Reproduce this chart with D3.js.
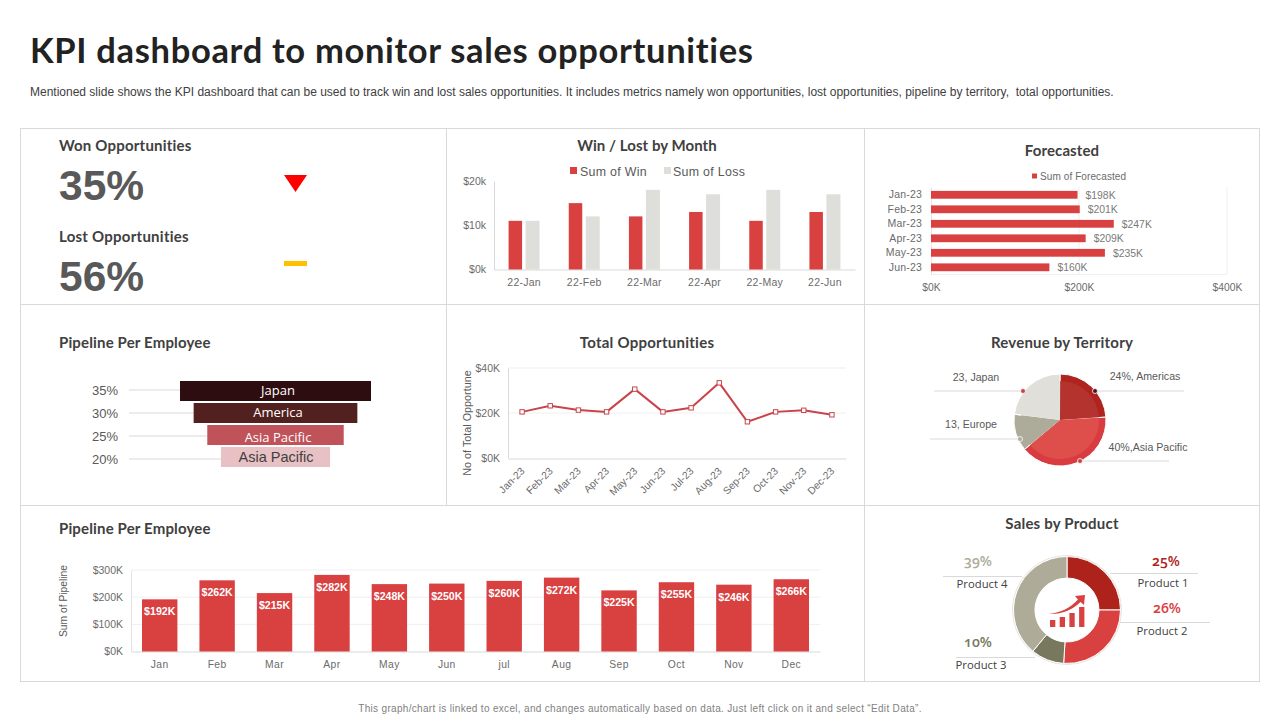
<!DOCTYPE html>
<html><head><meta charset="utf-8">
<script src="https://cdn.jsdelivr.net/npm/d3@7/dist/d3.min.js"></script>
<style>
html,body{margin:0;padding:0;background:#fff;overflow:hidden}
svg{display:block}
text{font-family:"Liberation Sans",Arial,sans-serif;font-variant-ligatures:none;white-space:pre}
.ttl{font-family:Lato,sans-serif;font-weight:700;font-size:15px;fill:#404040}
.tick text{fill:#6b6b6b}
</style></head><body>
<svg id="c" width="1280" height="720"></svg>
<script>
const kpiNames = ["Won Opportunities","Lost Opportunities"];
const kpiValues = ["35%","56%"];
const winMonths = ["22-Jan","22-Feb","22-Mar","22-Apr","22-May","22-Jun"];
const winValues = [11,15,12,13,11,13];
const lossValues = [11,12,18,17,18,17];
const fcMonths = ["Jan-23","Feb-23","Mar-23","Apr-23","May-23","Jun-23"];
const fcValues = [198,201,247,209,235,160];
const funnelPct = [35,30,25,20];
const funnelNames = ["Japan","America","Asia Pacific","Asia Pacific"];
const funnelColors = ["#2d0d0f","#52201f","#bf5359","#e8c1c4"];
const totMonths = ["Jan-23","Feb-23","Mar-23","Apr-23","May-23","Jun-23","Jul-23","Aug-23","Sep-23","Oct-23","Nov-23","Dec-23"];
const totValues = [20.5,23.2,21.3,20.5,30.6,20.5,22.3,33.4,16.1,20.5,21.2,19.2];
const terrNames = ["24%, Americas","40%,Asia Pacific","13, Europe","23, Japan"];
const terrValues = [24,40,13,23];
const terrOuter = ["#b02420","#d93c40","#adac9a","#e0dfd9"];
const terrInner = ["#b5332e","#de4f4c","#adac9a","#e0dfd9"];
const pipeMonths = ["Jan","Feb","Mar","Apr","May","Jun","jul","Aug","Sep","Oct","Nov","Dec"];
const pipeValues = [192,262,215,282,248,250,260,272,225,255,246,266];
const prodNames = ["Product 1","Product 2","Product 3","Product 4"];
const prodValues = [25,26,10,39];
const prodColors = ["#ad231c","#d94040","#77785e","#aeac99"];

const RED="#d94040", GREY="#dededa", svg=d3.select("#c");
const txt=(x,y,s,o={})=>{const t=svg.append("text").attr("x",x).attr("y",y).text(s)
  .attr("text-anchor",o.a||"start").attr("font-size",o.s||11).attr("fill",o.f||"#595959");
  if(o.w)t.attr("font-weight",o.w); if(o.ff)t.style("font-family",o.ff); if(o.ls)t.attr("letter-spacing",o.ls); if(o.c)t.attr("class",o.c); return t;};
const line=(x1,y1,x2,y2,c="#d9d9d9",w=1)=>svg.append("line").attr("x1",x1).attr("y1",y1).attr("x2",x2).attr("y2",y2).attr("stroke",c).attr("stroke-width",w);
const title=(x,y,s,a,ls=.2)=>txt(x,y,s,{c:"ttl",a,f:"#404040",ls}).attr("font-size",null);

// header
txt(30,63,"KPI dashboard to monitor sales opportunities",{s:34.5,w:700,f:"#222",ff:"Lato,sans-serif",ls:.67});
txt(30,96,"Mentioned slide shows the KPI dashboard that can be used to track win and lost sales opportunities. It includes metrics namely won opportunities, lost opportunities, pipeline by territory,  total opportunities.",{s:12,f:"#404040"});
txt(640,712,"This graph/chart is linked to excel, and changes automatically based on data. Just left click on it and select “Edit Data”.",{s:10,a:"middle",f:"#7f7f7f",ls:.32});

// panel frame
svg.append("rect").attr("x",20.5).attr("y",128.5).attr("width",1239).attr("height",553).attr("fill","none").attr("stroke","#d9d9d9");
line(446.5,128,446.5,505); line(864.5,128,864.5,682); line(20,304.5,1260,304.5); line(20,505.5,1260,505.5);

// KPI
title(59,151,kpiNames[0]); title(59,242,kpiNames[1],undefined,.25);
txt(59,199.5,kpiValues[0],{s:42.5,w:700}); txt(59,290.5,kpiValues[1],{s:42.5,w:700});
svg.append("path").attr("d",d3.line()([[284,175],[307,175],[295.5,192]])+"Z").attr("fill","#ff0000");
svg.append("rect").attr("x",284).attr("y",261).attr("width",23).attr("height",5).attr("fill","#ffc000");

function axisStyle(g,fs,ls){g.selectAll(".tick text").attr("font-size",fs).attr("letter-spacing",ls||0);g.selectAll(".tick line").remove();}

// Win / Lost
title(647,151,"Win / Lost by Month","middle",.05);
{const x=d3.scaleBand().domain(winMonths).range([494,855]);
 const y=d3.scaleLinear().domain([0,20]).range([269.5,181]);
 const gy=svg.append("g").attr("transform","translate(494,0)").call(d3.axisLeft(y).tickValues([0,10,20]).tickFormat(d=>`$${d}k`).tickSize(0).tickPadding(8));
 gy.select(".domain").attr("stroke","#d9d9d9"); axisStyle(gy,10.5);
 const gx=svg.append("g").attr("transform","translate(0,269.5)").call(d3.axisBottom(x).tickSize(0).tickPadding(9));
 gx.select(".domain").attr("stroke","#d9d9d9"); axisStyle(gx,10.5,.25);
 svg.selectAll(".w").data(winValues).join("rect").attr("fill",RED).attr("x",(d,i)=>x(winMonths[i])+x.bandwidth()/2-15.5).attr("width",13.5).attr("y",d=>y(d)).attr("height",d=>y(0)-y(d));
 svg.selectAll(".l").data(lossValues).join("rect").attr("fill",GREY).attr("x",(d,i)=>x(winMonths[i])+x.bandwidth()/2+1.5).attr("width",14).attr("y",d=>y(d)).attr("height",d=>y(0)-y(d));
 svg.append("rect").attr("x",570).attr("y",167).attr("width",7).attr("height",7).attr("fill",RED);
 txt(580,175.5,"Sum of Win",{s:12.4,ls:.3});
 svg.append("rect").attr("x",664).attr("y",167).attr("width",7).attr("height",7).attr("fill",GREY);
 txt(673,175.5,"Sum of Loss",{s:12.4,ls:.3});
}

// Forecasted
title(1062,156,"Forecasted","middle",.1);
{const x=d3.scaleLinear().domain([0,400]).range([931,1227]);
 const y=d3.scaleBand().domain(fcMonths).range([187.5,274.5]);
 svg.selectAll(".fg").data([200,400]).join("line").attr("x1",d=>x(d)).attr("x2",d=>x(d)).attr("y1",187).attr("y2",274).attr("stroke","#efefef");
 line(931,274.5,1227,274.5,"#efefef");
 const gy=svg.append("g").attr("transform","translate(931,0)").call(d3.axisLeft(y).tickSize(0).tickPadding(9));
 gy.select(".domain").attr("stroke","#e4e4e4"); axisStyle(gy,10.5,.2);
 const gx=svg.append("g").attr("transform","translate(0,283.7)").call(d3.axisBottom(x).tickValues([0,200,400]).tickFormat(d=>`$${d}K`).tickSize(0).tickPadding(0));
 gx.select(".domain").remove(); axisStyle(gx,10.3);
 svg.selectAll(".f").data(fcValues).join("rect").attr("fill",RED).attr("x",931).attr("y",(d,i)=>y(fcMonths[i])+3.4).attr("height",7.8).attr("width",d=>x(d)-931);
 fcValues.forEach((d,i)=>txt(x(d)+8,y(fcMonths[i])+11,`$${d}K`,{s:10.4,f:"#7a7a7a"}));
 svg.append("rect").attr("x",1032).attr("y",173.5).attr("width",5).attr("height",5).attr("fill",RED);
 txt(1040,180,"Sum of Forecasted",{s:10,f:"#6b6b6b",ls:.1});
}

// Funnel
title(59,348,"Pipeline Per Employee",undefined,.15);
{const w=d3.scaleLinear().domain([0,35]).range([0,191]);
 const y=d3.scaleBand().domain(funnelPct).range([381,467]).paddingInner(2/22);
 const ty=d3.scalePoint().domain(funnelPct).range([390,459]);
 const textShift=[-1,-1,2,0];
 funnelPct.forEach((p,i)=>{
  const x0=275.5-w(p)/2, cy=y(p)+y.bandwidth()/2;
  line(129,ty(p),x0,ty(p),"#d9d9d9");
  txt(118,ty(p)+4.5,p+"%",{s:13,a:"end"});
  svg.append("rect").attr("x",x0).attr("y",y(p)).attr("width",w(p)).attr("height",y.bandwidth()).attr("fill",funnelColors[i]);
  const last=i===3;
  txt(278-(last?2:0),cy+5+textShift[i],funnelNames[i],{s:last?14.5:13,a:"middle",f:last?"#404040":"#fff",ff:last?null:"'Open Sans',sans-serif"});
 });
}

// Total Opportunities
title(647,348,"Total Opportunities","middle",.25);
{const x=d3.scaleBand().domain(totMonths).range([508,846]);
 const y=d3.scaleLinear().domain([0,40]).range([458,368]);
 svg.selectAll(".tg").data([20,40]).join("line").attr("x1",508).attr("x2",846).attr("y1",d=>y(d)).attr("y2",d=>y(d)).attr("stroke","#efefef");
 const gy=svg.append("g").attr("transform","translate(508,0)").call(d3.axisLeft(y).tickValues([0,20,40]).tickFormat(d=>`$${d}K`).tickSize(0).tickPadding(8));
 gy.select(".domain").attr("stroke","#d9d9d9"); axisStyle(gy,10.5);
 const gx=svg.append("g").attr("transform","translate(0,458.5)").call(d3.axisBottom(x).tickSizeOuter(0).tickPadding(4));
 gx.select(".domain").attr("stroke","#d9d9d9"); axisStyle(gx,10.3);
 gx.selectAll(".tick text").attr("text-anchor","end").attr("transform","translate(-9,1) rotate(-45)");
 const X=(d,i)=>x(totMonths[i])+x.bandwidth()/2;
 svg.append("path").datum(totValues).attr("fill","none").attr("stroke","#c9444a").attr("stroke-width",2).attr("d",d3.line().x(X).y(d=>y(d)));
 svg.selectAll(".m").data(totValues).join("rect").attr("x",(d,i)=>X(d,i)-2.2).attr("y",d=>y(d)-2.2).attr("width",4.4).attr("height",4.4).attr("fill","#fff").attr("stroke","#c9444a").attr("stroke-width",1);
 txt(0,0,"No of Total Opportune",{s:10.8,a:"middle"}).attr("transform","translate(471,423) rotate(-90)");
}

// Revenue by Territory
title(1062,348,"Revenue by Territory","middle",.2);
{const g=svg.append("g").attr("transform","translate(1060,420)");
 const arcs=d3.pie().sort(null)(terrValues);
 g.selectAll(".o").data(arcs).join("path").attr("d",d3.arc().innerRadius(0).outerRadius(46)).attr("fill",(d,i)=>terrOuter[i]).attr("stroke","#fff").attr("stroke-width",1);
 g.selectAll(".i").data(arcs).join("path").attr("d",d3.arc().innerRadius(0).outerRadius(39).padAngle(.01)).attr("fill",(d,i)=>terrInner[i]);
 const call=[[1095,391,1184,1145,380,"#4d1518"],[1080,461,1169,1148,451,"#c9444a"],[1020,439,930,971,428,"#adac9a"],[1023,391,934,976,381,"#c9444a"]];
 call.forEach((c,i)=>{line(c[0],c[1],c[2],c[1]);
  svg.append("circle").attr("cx",c[0]).attr("cy",c[1]).attr("r",2.5).attr("fill",c[5]).attr("stroke","#fff").attr("stroke-width",.8);
  txt(c[3],c[4],terrNames[i],{s:10.6,a:"middle"});});
}

// Pipeline bars
title(59,534,"Pipeline Per Employee",undefined,.15);
{const x=d3.scaleBand().domain(pipeMonths).range([131,820]);
 const y=d3.scaleLinear().domain([0,300]).range([651.5,570]);
 svg.selectAll(".pg").data([100,200,300]).join("line").attr("x1",131).attr("x2",820).attr("y1",d=>y(d)).attr("y2",d=>y(d)).attr("stroke","#efefef");
 const gy=svg.append("g").attr("transform","translate(131,0)").call(d3.axisLeft(y).tickValues([0,100,200,300]).tickFormat(d=>`$${d}K`).tickSize(0).tickPadding(8));
 gy.select(".domain").attr("stroke","#e4e4e4"); axisStyle(gy,10.5);
 const gx=svg.append("g").attr("transform","translate(0,651.5)").call(d3.axisBottom(x).tickSize(0).tickPadding(9));
 gx.select(".domain").attr("stroke","#d9d9d9"); axisStyle(gx,10.3,.4);
 svg.selectAll(".p").data(pipeValues).join("rect").attr("fill",RED).attr("x",(d,i)=>x(pipeMonths[i])+x.bandwidth()/2-17.7).attr("width",35.4).attr("y",d=>y(d)).attr("height",d=>y(0)-y(d));
 pipeValues.forEach((d,i)=>txt(x(pipeMonths[i])+x.bandwidth()/2,y(d)+16,`$${d}K`,{s:10.6,w:700,a:"middle",f:"#fff"}));
 txt(0,0,"Sum of Pipeline",{s:10.3,a:"middle"}).attr("transform","translate(67,601) rotate(-90)");
}

// Sales by Product
title(1062,529,"Sales by Product","middle",.2);
{const g=svg.append("g").attr("transform","translate(1067,610)");
 g.append("circle").attr("r",54.5).attr("fill","none").attr("stroke","#e6e2dd");
 g.selectAll(".d").data(d3.pie().sort(null)(prodValues)).join("path").attr("d",d3.arc().innerRadius(32).outerRadius(53.5)).attr("fill",(d,i)=>prodColors[i]).attr("stroke","#fff").attr("stroke-width",1);
 const c=[[1110,1198,573,1166,1163,562,583],[1120,1210,622,1167,1162,609,631],[956,1035,657,978,981,643,665],[943,1022,576,978,982,562,584]];
 c.forEach((a,i)=>{line(a[0],a[2]+.5,a[1],a[2]+.5);
  txt(a[3],a[5]+4,prodValues[i]+"%",{s:14,a:"middle",w:600,f:prodColors[i],ff:"'Open Sans',sans-serif"}).style("font-feature-settings",'"onum"');
  txt(a[4],a[6]+4,prodNames[i],{s:11.3,a:"middle",f:"#404040",ff:"'Open Sans',sans-serif"});});
 // centre icon: four rising bars and an arrow
 const iconBars=[7,10,14,20];
 iconBars.forEach((h,i)=>g.append("rect").attr("x",-17+i*9.7).attr("y",17-h).attr("width",5.3).attr("height",h).attr("fill",RED));
 g.append("path").attr("d","M-18,4 C-6,2.5 3,-2 11,-10.5 L8,-14 L18,-15 L17,-5 L13.5,-8 C5,0.5 -6,4.5 -18,4Z").attr("fill",RED);
}
</script></body></html>
